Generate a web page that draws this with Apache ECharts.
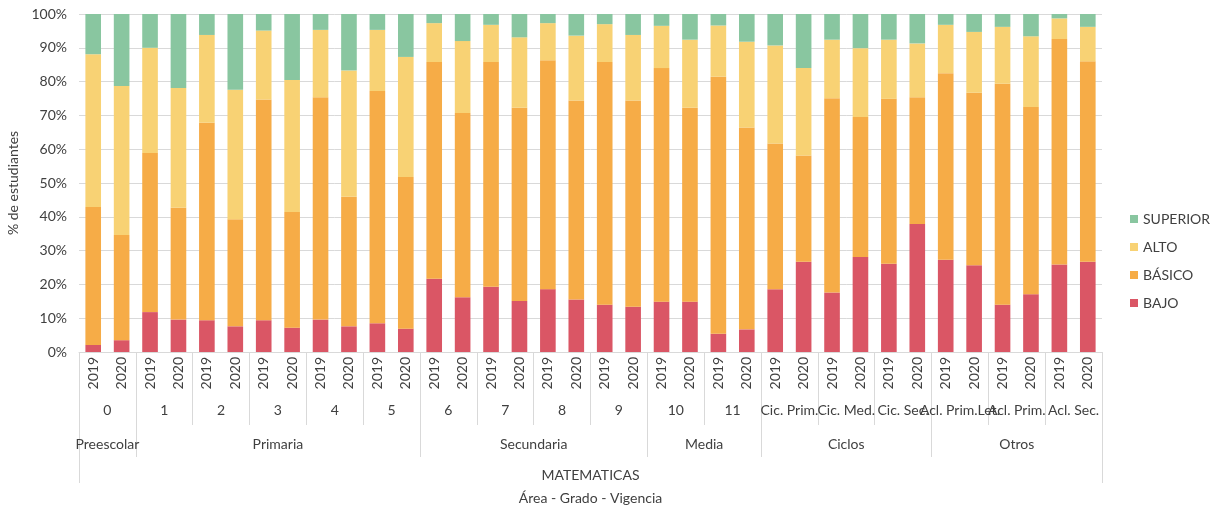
<!DOCTYPE html>
<html>
<head>
<meta charset="utf-8">
<script src="https://cdn.jsdelivr.net/npm/echarts@6/dist/echarts.min.js"></script>
<style>
  html, body { margin: 0; padding: 0; background: #fff; }
  #chart { width: 1216px; height: 508px; }
</style>
</head>
<body>
<div id="chart"></div>
<script>
// ── Data ────────────────────────────────────────────────────────────────
const years = ['2019', '2020'];
const grades = ['0', '1', '2', '3', '4', '5', '6', '7', '8', '9', '10', '11',
  'Cic. Prim.', 'Cic. Med.', 'Cic. Sec.', 'Acl. Prim.Let.', 'Acl. Prim.', 'Acl. Sec.'];
const levels = ['Preescolar', 'Primaria', 'Secundaria', 'Media', 'Ciclos', 'Otros'];
const levelSizes = [1, 5, 4, 2, 3, 3];   // grades per level
const area = 'MATEMATICAS';

// % of students per bar (grade × year, in order)
const bajo = [2.1, 3.5, 11.8, 9.6, 9.4, 7.6, 9.4, 7.2, 9.6, 7.6, 8.5, 6.9,
  21.7, 16.2, 19.3, 15.1, 18.6, 15.5, 14.0, 13.4, 14.9, 14.9, 5.4, 6.7,
  18.6, 26.7, 17.6, 28.1, 26.1, 37.9, 27.3, 25.7, 14.0, 17.1, 25.9, 26.7];
const basico = [40.8, 31.1, 47.1, 33.1, 58.4, 31.7, 65.3, 34.2, 65.8, 38.3, 68.7, 44.9,
  64.1, 54.5, 66.5, 57.2, 67.7, 58.9, 71.8, 61.0, 69.1, 57.4, 76.0, 59.7,
  43.1, 31.4, 57.5, 41.4, 48.8, 37.5, 55.2, 51.0, 65.4, 55.4, 66.7, 59.3];
const alto = [45.2, 44.1, 31.1, 35.4, 26.0, 38.3, 20.4, 39.1, 19.9, 37.4, 18.1, 35.5,
  11.5, 21.3, 11.0, 20.8, 11.0, 19.2, 11.2, 19.4, 12.5, 20.1, 15.2, 25.4,
  29.0, 25.9, 17.3, 20.4, 17.5, 15.9, 14.3, 18.0, 16.8, 20.9, 6.1, 10.2];
const superior = [11.9, 21.3, 10.0, 21.9, 6.2, 22.4, 4.9, 19.5, 4.7, 16.7, 4.7, 12.7,
  2.7, 8.0, 3.2, 6.9, 2.7, 6.4, 3.0, 6.2, 3.5, 7.6, 3.4, 8.2,
  9.3, 16.0, 7.6, 10.1, 7.6, 8.7, 3.2, 5.3, 3.8, 6.6, 1.3, 3.8];

// ── Styles ──────────────────────────────────────────────────────────────
const fontFamily = 'Lato, "Noto Sans", sans-serif';
const labelColor = '#404040';
const lineColor = '#d9d9d9';
const colors = { BAJO: '#da5665', 'BÁSICO': '#f6ac47', ALTO: '#f8d274', SUPERIOR: '#89c6a0' };

// ── Axis helpers: boundary-based rows for the grouped labels ────────────
const nBars = grades.length * years.length;
const yearCats = grades.flatMap(() => years);

// grade row: boundaries 0..nBars, label at each grade centre
const gradeRow = new Array(nBars + 1).fill('');
grades.forEach((g, i) => { gradeRow[i * 2 + 1] = g; });

// level row
const levelRow = new Array(nBars + 1).fill('');
const levelEdges = [0];
let pos = 0;
levels.forEach((l, i) => {
  const w = levelSizes[i] * years.length;
  levelRow[pos + w / 2] = l;
  pos += w;
  levelEdges.push(pos);
});

// area row
const areaRow = new Array(nBars + 1).fill('');
areaRow[nBars / 2] = area;

const rowAxis = (data, labelMargin, tickLen, tickFn, extra) => Object.assign({
  type: 'category', data, position: 'bottom', boundaryGap: false,
  axisLine: { show: false },
  axisTick: { show: true, length: tickLen, interval: tickFn, lineStyle: { color: lineColor } },
  axisLabel: { interval: 0, margin: labelMargin, fontSize: 14, fontFamily, color: labelColor },
  splitLine: { show: false },
}, extra || {});

const chart = echarts.init(document.getElementById('chart'), null, { renderer: 'canvas' });
chart.setOption({
  animation: false,
  textStyle: { fontFamily },
  grid: { left: 79, right: 114, top: 14, bottom: 156, outerBoundsMode: 'none' },
  legend: {
    orient: 'vertical', left: 1125, top: 207,
    data: ['SUPERIOR', 'ALTO', 'BÁSICO', 'BAJO'],
    icon: 'rect', itemWidth: 8, itemHeight: 8, itemGap: 14,
    textStyle: { fontSize: 14, fontFamily, color: labelColor },
  },
  xAxis: [
    {
      type: 'category', data: yearCats, position: 'bottom',
      axisLine: { lineStyle: { color: lineColor } },
      axisTick: { show: false },
      axisLabel: { interval: 0, rotate: 90, margin: 5, fontSize: 14, fontFamily, color: labelColor },
    },
    rowAxis(gradeRow, 51, 73, (i) => i % 2 === 0),
    rowAxis(levelRow, 85, 105, (i) => levelEdges.includes(i)),
    rowAxis(areaRow, 116, 131, (i) => i === 0 || i === nBars, {
      name: 'Área - Grado - Vigencia', nameLocation: 'middle', nameGap: 139,
      nameTextStyle: { fontSize: 14, fontFamily, color: labelColor },
    }),
  ],
  yAxis: {
    type: 'value', min: 0, max: 100, interval: 10,
    name: '% de estudiantes', nameLocation: 'middle', nameGap: 56,
    nameTextStyle: { fontSize: 14, fontFamily, color: labelColor },
    axisLine: { show: false },
    axisTick: { show: false },
    axisLabel: { formatter: '{value}%', margin: 12, fontSize: 14, fontFamily, color: labelColor },
    splitLine: { lineStyle: { color: lineColor, width: 1 } },
  },
  series: [
    ['BAJO', bajo], ['BÁSICO', basico], ['ALTO', alto], ['SUPERIOR', superior],
  ].map(([name, data]) => ({
    name, type: 'bar', stack: 'total', data, barWidth: '55%',
    itemStyle: { color: colors[name] },
  })),
});
</script>
</body>
</html>
